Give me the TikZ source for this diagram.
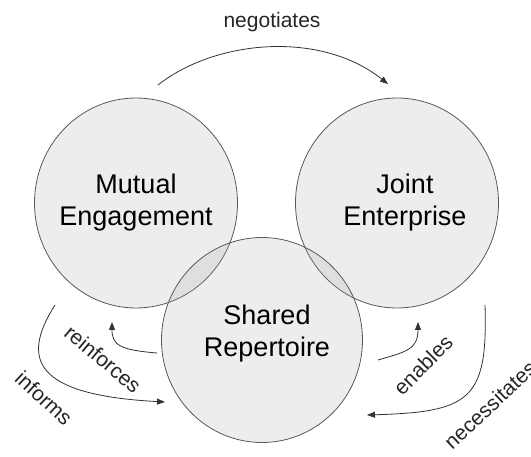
\documentclass[tikz,border=0pt]{standalone}
\usepackage{fontspec}
\setmainfont{Liberation Sans}
\usetikzlibrary{shapes,arrows,arrows.meta,positioning}
\tikzset{
  cnode/.style = {align=center, inner sep=0pt, text centered},
  circ_n/.style = {cnode, ellipse, draw=black!65, line width=0.8pt, fill=black!35, fill opacity=0.2, minimum width=203pt, minimum height=210pt},
  circ_t/.style = {cnode, font=\fontsize{27}{32}\selectfont},
  lbl_n/.style = {cnode, font=\fontsize{21}{24}\selectfont, text=black!85},
  arc_e/.style = {draw=black!80, line width=0.8pt}
}

\begin{document}
\begin{tikzpicture}[x=1pt,y=-1pt,->,>={Triangle[length=8pt,width=6pt]}]
  \useasboundingbox (0,0) rectangle (531,457);
  % the three circles
  \node [circ_n] (me) at (136,203) {};
  \node [circ_n] (je) at (397,203) {};
  \node [circ_n, minimum width=201pt, minimum height=205pt] (sr) at (262,340) {};
  \node [circ_t] (me_t) at (me.center) {Mutual\\Engagement};
  \node [circ_t] (je_t) at ([xshift=8pt]je.center) {Joint\\Enterprise};
  \node [circ_t] (sr_t) at ([xshift=5pt,yshift=6pt]sr.center) {Shared\\Repertoire};
  % arrow ends
  \coordinate (neg_s) at (158,85);
  \coordinate (neg_e) at (388,84);
  \coordinate (rei_s) at (157,353);
  \coordinate (rei_e) at (112,322);
  \coordinate (inf_s) at (55,305);
  \coordinate (inf_e) at (165,402);
  \coordinate (ena_s) at (378,360);
  \coordinate (ena_e) at (418,322);
  \coordinate (nec_s) at (485,305);
  \coordinate (nec_e) at (367,415);
  % arrows
  \draw [arc_e] (neg_s) .. controls (215,40) and (320,30) .. (neg_e);
  \draw [arc_e] (rei_s) .. controls (120,350) and (112,345) .. (rei_e);
  \draw [arc_e] (inf_s) .. controls (20,360) and (35,395) .. (inf_e);
  \draw [arc_e] (ena_s) .. controls (405,352) and (418,350) .. (ena_e);
  \draw [arc_e] (nec_s) .. controls (488,400) and (470,412) .. (nec_e);
  % labels
  \node [lbl_n] (neg) at (272,22) {negotiates};
  \node [lbl_n, rotate=-40] (rei) at (103,359) {reinforces};
  \node [lbl_n, rotate=-43] (inf) at (44,398) {informs};
  \node [lbl_n, rotate=45] (ena) at (423,365) {enables};
  \node [lbl_n, rotate=43] (nec) at (490,405) {necessitates};
\end{tikzpicture}
\end{document}
